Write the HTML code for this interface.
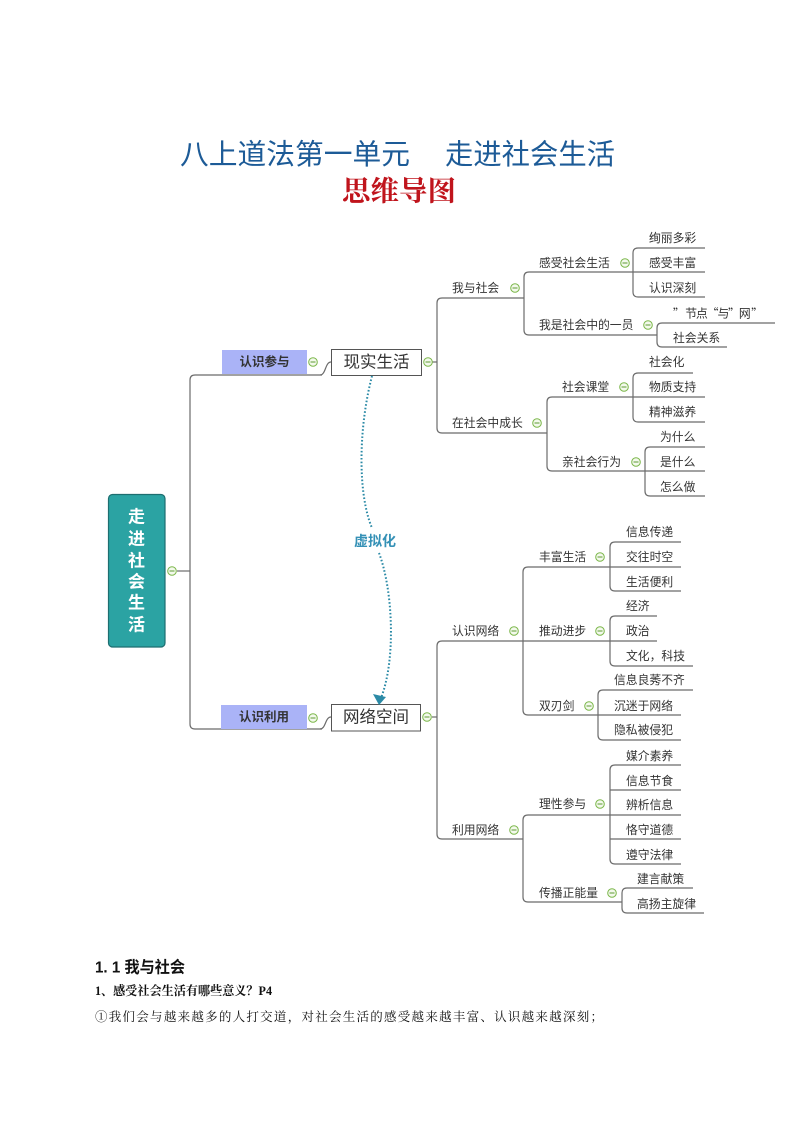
<!DOCTYPE html>
<html><head><meta charset="utf-8">
<style>
html,body{margin:0;padding:0;background:#fff;}
svg{display:block;}
.n{font-family:"Liberation Sans","Noto Sans CJK SC",sans-serif;font-size:11.8px;fill:#333;dominant-baseline:central;}
</style></head>
<body>
<svg width="794" height="1123" viewBox="0 0 794 1123" xmlns="http://www.w3.org/2000/svg">
<rect width="794" height="1123" fill="#fff"/>
<!-- Title -->
<text x="180" y="155" font-family="Liberation Sans,'Noto Sans CJK SC',sans-serif" font-size="28.5" fill="#1d5b97" dominant-baseline="central" textLength="230" lengthAdjust="spacingAndGlyphs">八上道法第一单元</text>
<text x="445" y="155" font-family="Liberation Sans,'Noto Sans CJK SC',sans-serif" font-size="28.5" fill="#1d5b97" dominant-baseline="central" textLength="170" lengthAdjust="spacingAndGlyphs">走进社会生活</text>
<text x="342" y="192" font-family="Liberation Serif,'Noto Serif CJK SC',serif" font-weight="bold" font-size="28" fill="#c0141c" dominant-baseline="central" textLength="114" lengthAdjust="spacingAndGlyphs">思维导图</text>

<!-- connector lines -->
<g fill="none" stroke="#6b6b6b" stroke-width="1.2">
<path d="M322,375 H195 Q190,375 190,380 V724 Q190,729 195,729 H322"/>
<path d="M177,571 H190"/>
<path d="M320,375 C326,375 325,362 331,362"/>
<path d="M320,729 C326,729 325,717 331,717"/>
<path d="M432,362 H437"/>
<path d="M524,298 H442 Q437,298 437,303 V428 Q437,433 442,433 H547"/>
<path d="M633,272 H529 Q524,272 524,277 V330 Q524,335 529,335 H657"/>
<path d="M705,248 H638 Q633,248 633,253 V292 Q633,297 638,297 H705"/>
<path d="M633,272 H705"/>
<path d="M775,323 H662 Q657,323 657,328 V342 Q657,347 662,347 H727"/>
<path d="M633,397 H552 Q547,397 547,402 V466 Q547,471 552,471 H645"/>
<path d="M693,373 H638 Q633,373 633,378 V417 Q633,422 638,422 H705"/>
<path d="M633,397 H705"/>
<path d="M705,447 H650 Q645,447 645,452 V491 Q645,496 650,496 H705"/>
<path d="M645,471 H705"/>
<path d="M432,717 H437"/>
<path d="M523,641 H442 Q437,641 437,646 V834 Q437,839 442,839 H523"/>
<path d="M610,567 H528 Q523,567 523,572 V710 Q523,715 528,715 H598"/>
<path d="M523,641 H610"/>
<path d="M681,542 H615 Q610,542 610,547 V586 Q610,591 615,591 H681"/>
<path d="M610,567 H681"/>
<path d="M657,616 H615 Q610,616 610,621 V661 Q610,666 615,666 H693"/>
<path d="M610,641 H657"/>
<path d="M693,690 H603 Q598,690 598,695 V735 Q598,740 603,740 H681"/>
<path d="M598,715 H681"/>
<path d="M610,815 H528 Q523,815 523,820 V897 Q523,902 528,902 H622"/>
<path d="M681,765 H615 Q610,765 610,770 V859 Q610,864 615,864 H681"/>
<path d="M610,790 H681"/>
<path d="M610,815 H681"/>
<path d="M610,839 H681"/>
<path d="M693,888 H627 Q622,888 622,893 V908 Q622,913 627,913 H704"/>
</g>

<!-- root -->
<rect x="108.5" y="494.5" width="56.5" height="152.5" rx="4" fill="#2ba3a3" stroke="#1d6e70" stroke-width="1.2"/>
<g font-family="Liberation Sans,'Noto Sans CJK SC',sans-serif" font-weight="bold" font-size="17" fill="#fff" text-anchor="middle" dominant-baseline="central">
<text x="136.5" y="517">走</text>
<text x="136.5" y="539">进</text>
<text x="136.5" y="561">社</text>
<text x="136.5" y="582">会</text>
<text x="136.5" y="603">生</text>
<text x="136.5" y="625">活</text>
</g>

<!-- blue boxes -->
<rect x="222" y="350" width="85" height="24" fill="#aab3f7"/>
<text x="264.5" y="362" text-anchor="middle" dominant-baseline="central" font-family="Liberation Sans,'Noto Sans CJK SC',sans-serif" font-weight="bold" font-size="12.5" fill="#333">认识参与</text>
<rect x="221" y="705" width="86" height="24" fill="#aab3f7"/>
<text x="264" y="717" text-anchor="middle" dominant-baseline="central" font-family="Liberation Sans,'Noto Sans CJK SC',sans-serif" font-weight="bold" font-size="12.5" fill="#333">认识利用</text>

<!-- white boxes -->
<rect x="331.5" y="349.5" width="90" height="26" fill="#fff" stroke="#555" stroke-width="1"/>
<text x="376.5" y="362.5" text-anchor="middle" dominant-baseline="central" font-family="Liberation Sans,'Noto Sans CJK SC',sans-serif" font-size="16.5" fill="#333">现实生活</text>
<rect x="331.5" y="704.5" width="89" height="26.5" fill="#fff" stroke="#555" stroke-width="1"/>
<text x="376" y="717.5" text-anchor="middle" dominant-baseline="central" font-family="Liberation Sans,'Noto Sans CJK SC',sans-serif" font-size="16.5" fill="#333">网络空间</text>

<!-- dotted relationship -->
<g fill="none" stroke="#2b8aa6" stroke-width="2" stroke-dasharray="1.6 2">
<path d="M372,376 C358,430 358,495 372,528"/>
<path d="M379,553 C393,590 396,660 381,698"/>
</g>
<polygon points="373,694 386,697 379,705" fill="#2b8aa6"/>
<text x="375" y="541" text-anchor="middle" dominant-baseline="central" font-family="Liberation Sans,'Noto Sans CJK SC',sans-serif" font-weight="bold" font-size="14" fill="#3591b6">虚拟化</text>

<!-- collapse icons -->
<g fill="#f3f9ec" stroke="#7ab648" stroke-width="1">
<circle cx="172" cy="571" r="4.3"/>
<circle cx="313" cy="362" r="4.3"/>
<circle cx="313" cy="718" r="4.3"/>
<circle cx="428" cy="362" r="4.3"/>
<circle cx="427" cy="717" r="4.3"/>
<circle cx="515" cy="288" r="4.3"/>
<circle cx="625" cy="263" r="4.3"/>
<circle cx="648" cy="325" r="4.3"/>
<circle cx="537" cy="423" r="4.3"/>
<circle cx="624" cy="387" r="4.3"/>
<circle cx="636" cy="462" r="4.3"/>
<circle cx="514" cy="631" r="4.3"/>
<circle cx="600" cy="557" r="4.3"/>
<circle cx="600" cy="631" r="4.3"/>
<circle cx="589" cy="706" r="4.3"/>
<circle cx="514" cy="830" r="4.3"/>
<circle cx="600" cy="804" r="4.3"/>
<circle cx="612" cy="893" r="4.3"/>
</g>
<g stroke="#5f9a35" stroke-width="1.1">
<path d="M169.5,571H174.5M310.5,362H315.5M310.5,718H315.5M425.5,362H430.5M424.5,717H429.5M512.5,288H517.5M622.5,263H627.5M645.5,325H650.5M534.5,423H539.5M621.5,387H626.5M633.5,462H638.5M511.5,631H516.5M597.5,557H602.5M597.5,631H602.5M586.5,706H591.5M511.5,830H516.5M597.5,804H602.5M609.5,893H614.5"/>
</g>

<!-- node texts -->
<text class="n" x="452" y="288">我与社会</text>
<text class="n" x="452" y="423">在社会中成长</text>
<text class="n" x="452" y="631">认识网络</text>
<text class="n" x="452" y="830">利用网络</text>

<text class="n" x="539" y="263">感受社会生活</text>
<text class="n" x="539" y="325">我是社会中的一员</text>
<text class="n" x="562" y="387">社会课堂</text>
<text class="n" x="562" y="462">亲社会行为</text>
<text class="n" x="539" y="557">丰富生活</text>
<text class="n" x="539" y="631">推动进步</text>
<text class="n" x="539" y="706">双刃剑</text>
<text class="n" x="539" y="804">理性参与</text>
<text class="n" x="539" y="893">传播正能量</text>

<text class="n" x="649" y="238">绚丽多彩</text>
<text class="n" x="649" y="263">感受丰富</text>
<text class="n" x="649" y="288">认识深刻</text>
<text x="673" y="313" dominant-baseline="central" font-family="'Noto Sans CJK SC','Liberation Sans',sans-serif" font-size="11.8" fill="#333" textLength="90" lengthAdjust="spacing">” 节点“与”网 ”</text>
<text class="n" x="673" y="338">社会关系</text>
<text class="n" x="649" y="362">社会化</text>
<text class="n" x="649" y="387">物质支持</text>
<text class="n" x="649" y="412">精神滋养</text>
<text class="n" x="660" y="437">为什么</text>
<text class="n" x="660" y="462">是什么</text>
<text class="n" x="660" y="487">怎么做</text>

<text class="n" x="626" y="532">信息传递</text>
<text class="n" x="626" y="557">交往时空</text>
<text class="n" x="626" y="582">生活便利</text>
<text class="n" x="626" y="606">经济</text>
<text class="n" x="626" y="631">政治</text>
<text class="n" x="626" y="656">文化，科技</text>
<text class="n" x="614" y="680">信息良莠不齐</text>
<text class="n" x="614" y="706">沉迷于网络</text>
<text class="n" x="614" y="730">隐私被侵犯</text>
<text class="n" x="626" y="756">媒介素养</text>
<text class="n" x="626" y="781">信息节食</text>
<text class="n" x="626" y="805">辨析信息</text>
<text class="n" x="626" y="830">恪守道德</text>
<text class="n" x="626" y="855">遵守法律</text>
<text class="n" x="637" y="879">建言献策</text>
<text class="n" x="637" y="904">高扬主旋律</text>

<!-- bottom text -->
<text x="95" y="968" dominant-baseline="central" font-family="Liberation Sans,'Noto Sans CJK SC',sans-serif" font-weight="bold" font-size="16" fill="#111" textLength="90" lengthAdjust="spacingAndGlyphs">1. 1 我与社会</text>
<text x="95" y="991" dominant-baseline="central" font-family="Liberation Serif,'Noto Serif CJK SC',serif" font-weight="bold" font-size="12.5" fill="#111" textLength="177" lengthAdjust="spacingAndGlyphs">1、感受社会生活有哪些意义？P4</text>
<text x="95" y="1017" dominant-baseline="central" font-family="Liberation Serif,'Noto Serif CJK SC',serif" font-size="12.5" fill="#111" textLength="508" lengthAdjust="spacing">①我们会与越来越多的人打交道，对社会生活的感受越来越丰富、认识越来越深刻；</text>
</svg>
</body></html>
